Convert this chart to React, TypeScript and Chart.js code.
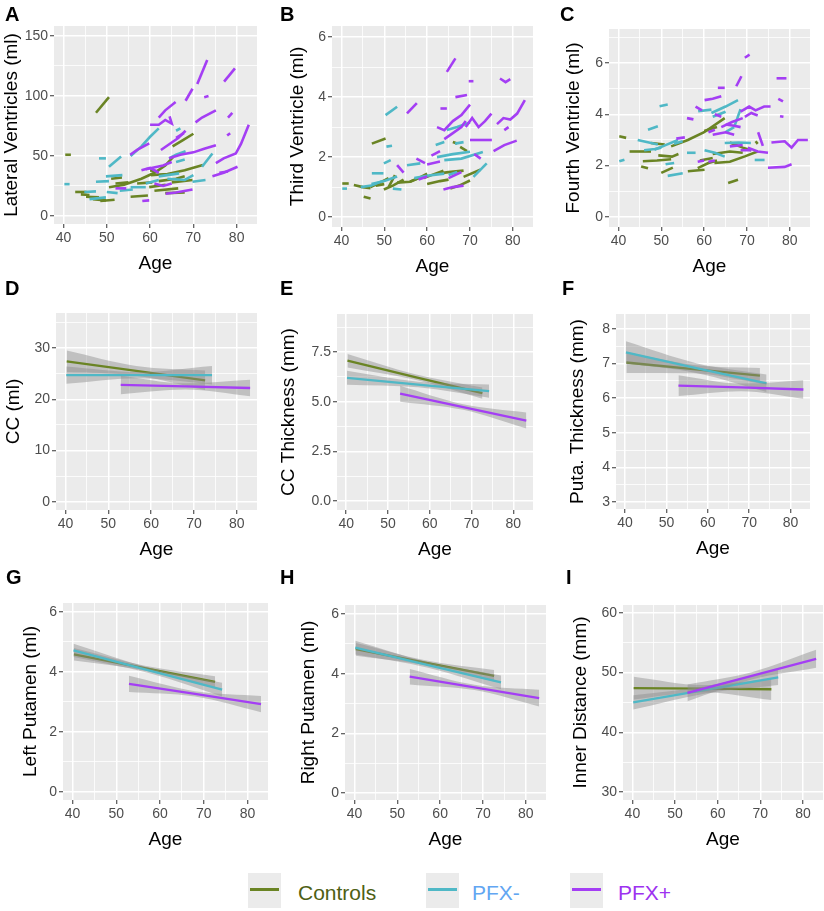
import React, { useEffect, useRef } from 'react';
import { Chart, registerables } from 'chart.js';
Chart.register(...registerables);

const FONT = '"Liberation Sans", Arial, Helvetica, sans-serif';
const COL_CTRL = '#6a8424';
const COL_NEG = '#4fb8c6';
const COL_POS = '#a43ef4';
const BAND = 'rgba(140,140,140,0.45)';

// ---------- axes ----------
const ageTicks = [40, 50, 60, 70, 80];
const ageMinor = [45, 55, 65, 75];
const ageLimits = [37.8, 84.7];

const lvTicks = [0, 50, 100, 150];
const lvMinor = [25, 75, 125];
const tvTicks = [0, 2, 4, 6];
const tvMinor = [1, 3, 5];
const fvTicks = [0, 2, 4, 6];
const fvMinor = [1, 3, 5, 7];
const ccTicks = [0, 10, 20, 30];
const ccMinor = [5, 15, 25, 35];
const cctTicks = [0, 2.5, 5, 7.5];
const cctLabels = ['0.0', '2.5', '5.0', '7.5'];
const cctMinor = [1.25, 3.75, 6.25, 8.75];
const ptTicks = [3, 4, 5, 6, 7, 8];
const ptMinor = [3.5, 4.5, 5.5, 6.5, 7.5];
const lpTicks = [0, 2, 4, 6];
const lpMinor = [1, 3, 5];
const rpTicks = [0, 2, 4, 6];
const rpMinor = [1, 3, 5];
const idTicks = [30, 40, 50, 60];
const idMinor = [35, 45, 55];

// ---------- A: lateral ventricles, trajectories [age, value, age, value, ...] ----------
const lvCtrl = [
  [47.5, 86, 50.5, 99], [40.4, 51, 41.7, 51], [42.7, 20, 45.3, 20], [45.2, 16, 48.2, 15.5],
  [46.8, 14, 49.8, 13], [48.5, 12.5, 51.8, 13.5], [51, 31, 53.5, 32], [52, 27, 55, 28],
  [55.5, 16, 59.5, 17], [50.5, 24, 54, 26, 58, 31, 61, 36, 63.5, 42, 65.3, 49],
  [59.8, 24, 63.6, 26], [61, 21, 66.5, 23], [63.5, 19, 68, 19.5], [65, 28, 69.8, 30],
  [60.2, 34, 64, 35, 68, 38, 72.2, 42.5], [65.2, 58, 67.5, 63, 70, 68.5], [57, 27, 60.5, 28],
  [62, 29, 66, 31, 68, 33], [44, 18, 46, 17.5], [60, 38, 62, 37],
];
const lvNeg = [
  [40.2, 26.5, 41.4, 26.5], [48.2, 48, 49.8, 48], [50.5, 41, 53.3, 49.5], [47.5, 28.5, 50.5, 29],
  [44.8, 20, 47.5, 20.5], [46, 14, 49.8, 15.5], [49.8, 33, 53.6, 34], [55.5, 24, 59, 24],
  [55.5, 50, 58, 58, 60, 66, 62, 73], [64.4, 48, 66, 51, 68.2, 54], [62, 33, 66.7, 35.5],
  [69.8, 28.5, 72.8, 30], [72, 41, 74.4, 52], [64, 31, 68, 30, 70, 34], [66, 71, 67, 73],
  [59, 27, 62, 30], [53, 21, 56, 22], [50, 20, 52.5, 19], [66, 45, 68, 47],
];
const lvPos = [
  [70.9, 110, 73.2, 130], [68.2, 96, 69.8, 106], [72.5, 99, 73.5, 100], [77.1, 112, 79.6, 123],
  [78, 82, 79, 86], [77.8, 67, 78.5, 69], [70.5, 78, 72, 82, 75.2, 88], [62, 82, 63.5, 88, 65.9, 95],
  [60, 76, 62, 76, 63.5, 80, 65, 77, 64.5, 83], [55.4, 51, 57, 55, 59.8, 60.5],
  [62.5, 55, 64.5, 60, 66.5, 65, 68.2, 71], [64.4, 48, 67, 51, 70, 53, 72.5, 56, 75.2, 59],
  [74.4, 33, 77, 36, 80.2, 41], [75.2, 44, 77, 48, 79.8, 52, 81, 60, 82.8, 76], [52, 23, 54.5, 23],
  [58.2, 12.5, 59.8, 13], [63.6, 18.5, 66, 19.5, 69.8, 22], [58, 38, 60, 40, 62, 36],
  [61, 27, 63, 25, 65, 27], [66, 65, 67.8, 69], [76, 36, 78, 37], [59, 39, 63, 42, 65, 45],
];

// ---------- B: third ventricle ----------
const tvCtrl = [
  [47.1, 2.45, 50.3, 2.62], [45.2, 0.68, 46.8, 0.62], [40.2, 1.12, 41.7, 1.12],
  [42.9, 1.07, 45, 1.0, 46.8, 0.96], [46.8, 1.0, 49, 1.15, 51, 1.3], [49.9, 0.92, 52, 1.05, 54.5, 1.25],
  [51, 1.0, 52.5, 1.4], [53, 1.15, 56, 1.18, 58, 1.3], [56, 1.18, 58, 1.3, 60, 1.45],
  [59.2, 1.3, 61, 1.4, 63.8, 1.55], [60, 1.1, 63, 1.2, 65, 1.25], [62.3, 1.45, 65, 1.5, 68.5, 1.55],
  [65.4, 0.95, 67.5, 1.05, 70, 1.22], [68.5, 1.34, 72.4, 1.58], [67.7, 2.34, 69.3, 2.2],
  [66, 2.5, 67, 2.45], [48, 1.05, 50, 1.1],
];
const tvNeg = [
  [40.2, 0.95, 41.3, 0.95], [50.3, 3.4, 53, 3.68], [50.5, 2.35, 51.8, 2.38], [47.1, 1.46, 49.8, 1.46],
  [49.9, 1.79, 51.5, 1.9], [44.5, 1.0, 47, 1.05, 49.5, 1.2], [47, 1.1, 50, 1.2, 53, 1.35],
  [55.3, 1.73, 58.4, 1.79], [62, 2.4, 64, 2.5], [62.3, 2.0, 66, 2.1, 70, 2.18],
  [64, 1.9, 68, 1.95, 73, 2.17], [70.8, 1.34, 73.9, 1.79], [64.6, 2.9, 67, 3.0, 70, 3.15],
  [66.5, 2.45, 68.5, 2.5], [57, 1.3, 60, 1.38, 64, 1.45], [52, 0.95, 54, 0.92], [65, 1.4, 67, 1.5],
];
const tvPos = [
  [64.6, 4.84, 66.6, 5.29], [66.6, 4.0, 69.3, 4.07], [69.7, 4.53, 70.8, 4.53], [63.1, 3.62, 64.6, 3.62],
  [55.3, 3.46, 57.6, 3.8], [62.3, 3.0, 64, 2.9, 66, 3.2, 68, 3.4, 70, 3.75], [64, 2.6, 66, 2.8, 68, 3.0, 69, 3.2],
  [69, 3.0, 70.5, 3.3, 72, 3.0, 73.5, 3.2, 75, 3.45], [76.3, 3.1, 77.8, 3.3, 79.4, 3.25, 81, 3.45, 82.8, 3.9],
  [77, 4.62, 78.3, 4.5, 79.4, 4.6], [75.5, 2.2, 78, 2.4, 80.9, 2.55], [70, 2.57, 75.1, 2.57],
  [53, 1.73, 54.5, 1.48], [63.8, 0.92, 66, 1.0, 68.5, 1.05], [57.5, 1.95, 59.5, 1.8], [60, 1.75, 63, 1.85],
  [65, 1.3, 68, 1.5], [61, 2.05, 63, 2.2], [78, 2.9, 79, 3.0], [71, 2.1, 72.5, 1.95], [58, 1.25, 60, 1.35],
];

// ---------- C: fourth ventricle ----------
const fvCtrl = [
  [40.2, 3.14, 41.8, 3.08], [42.6, 2.55, 47.6, 2.55], [45.3, 1.97, 46.9, 1.9], [45.7, 2.17, 49, 2.2, 52.3, 2.25],
  [47.6, 2.88, 50.8, 2.82], [49.3, 2.4, 52.5, 2.35, 54, 2.45], [50, 1.72, 52.7, 1.92],
  [52.3, 2.75, 56.2, 3.0, 60, 3.3, 64.8, 3.85], [56.2, 1.78, 60.1, 1.84], [58.5, 1.9, 61, 2.1, 63, 2.2],
  [62.4, 2.1, 66, 2.15, 69.5, 2.36, 72.6, 2.56], [62, 2.45, 66, 2.55, 69, 2.5], [65.6, 1.32, 67.9, 1.45],
  [66, 2.9, 69, 2.7, 71, 2.6], [72, 2.95, 72.5, 2.85], [60, 3.35, 63, 3.5], [59, 2.2, 62, 2.3],
];
const fvNeg = [
  [40.2, 2.17, 41.4, 2.23], [44.5, 3.0, 49.2, 2.82], [46.9, 3.4, 49.2, 3.53], [49.6, 4.31, 51.5, 4.38],
  [46, 2.6, 48.5, 2.65, 50, 2.7], [48.4, 2.62, 51, 2.8, 53.9, 3.0], [51.5, 1.6, 55, 1.7], [51, 2.05, 53, 2.1],
  [56, 2.5, 58, 2.5], [58.6, 4.12, 61.7, 4.18], [61.7, 4.05, 65, 4.3, 67.9, 4.55], [60.1, 2.6, 62.5, 2.5, 64.8, 2.35],
  [64.8, 2.88, 68, 2.9, 70.9, 2.88], [67, 3.5, 68.5, 4.2], [71.8, 2.22, 74.1, 2.22], [62, 3.9, 65, 4.1],
  [65, 3.3, 67, 3.5], [53, 2.85, 55, 2.95],
];
const fvPos = [
  [69.5, 6.2, 70.6, 6.32], [67.5, 5.09, 68.7, 5.48], [63.2, 5.03, 64.8, 5.03], [60.1, 4.55, 62, 4.6, 64, 4.7],
  [76.9, 5.4, 79.2, 5.4], [77.3, 4.6, 78.4, 4.5], [77.7, 3.92, 78.5, 3.9], [56, 3.85, 57.5, 3.8],
  [58, 4.3, 59.5, 4.15], [58.5, 2.15, 60, 2.2], [53.5, 3.05, 55.5, 3.1],
  [68.5, 4.1, 70.5, 4.3, 72, 4.15, 74, 4.3, 75.5, 4.3], [69.5, 3.9, 71, 4.05, 72.5, 3.95], [72.6, 3.3, 73.7, 2.77],
  [64, 3.5, 66.5, 3.7, 69, 3.85], [62, 3.2, 65, 3.3, 67, 3.2], [65, 3.6, 67, 3.55, 68.5, 3.5],
  [75.7, 2.9, 78.8, 2.95, 80.4, 2.7, 81.9, 3.0, 84.2, 3.0], [74.9, 1.92, 78.8, 1.95, 80.4, 2.05],
  [68.5, 2.6, 71, 2.6], [70.2, 2.7, 72.5, 2.55, 74.9, 2.5], [61, 2.15, 62.5, 2.2], [61, 3.3, 62.5, 3.4],
  [66, 2.75, 69, 2.8], [62.5, 4.0, 64, 3.9],
];

// ---------- D-I: linear fits with 95% bands (start, middle, end of each group's age span) ----------
const ctrlAge = [40.3, 56.5, 72.6];
const negAge = [40.2, 57.2, 74.2];
const posAge = [52.9, 68.0, 83.1];

const ccCtrlFit = [27.4, 25.55, 23.7]; const ccCtrlLo = [25.3, 24.6, 21.8]; const ccCtrlHi = [29.5, 26.5, 25.6];
const ccNegFit = [24.7, 24.7, 24.7]; const ccNegLo = [23.0, 24.1, 22.9]; const ccNegHi = [26.4, 25.3, 26.5];
const ccPosFit = [22.8, 22.5, 22.2]; const ccPosLo = [21.0, 21.9, 20.6]; const ccPosHi = [24.6, 23.1, 23.8];

const cctCtrlFit = [7.06, 6.24, 5.43]; const cctCtrlLo = [6.72, 6.1, 5.15]; const cctCtrlHi = [7.4, 6.38, 5.71];
const cctNegFit = [6.2, 5.86, 5.53]; const cctNegLo = [5.85, 5.72, 5.2]; const cctNegHi = [6.55, 6.0, 5.86];
const cctPosFit = [5.4, 4.73, 4.05]; const cctPosLo = [5.0, 4.59, 3.65]; const cctPosHi = [5.8, 4.87, 4.45];

const ptCtrlFit = [7.03, 6.84, 6.65]; const ptCtrlLo = [6.73, 6.72, 6.43]; const ptCtrlHi = [7.33, 6.96, 6.87];
const ptNegFit = [7.32, 6.87, 6.43]; const ptNegLo = [7.0, 6.73, 6.18]; const ptNegHi = [7.64, 7.01, 6.68];
const ptPosFit = [6.36, 6.31, 6.25]; const ptPosLo = [6.06, 6.2, 5.98]; const ptPosHi = [6.66, 6.42, 6.52];

const lpCtrlFit = [4.59, 4.13, 3.67]; const lpCtrlLo = [4.38, 4.05, 3.48]; const lpCtrlHi = [4.8, 4.21, 3.86];
const lpNegFit = [4.72, 4.06, 3.41]; const lpNegLo = [4.5, 3.97, 3.18]; const lpNegHi = [4.94, 4.15, 3.64];
const lpPosFit = [3.6, 3.27, 2.93]; const lpPosLo = [3.33, 3.18, 2.66]; const lpPosHi = [3.87, 3.36, 3.2];

const rpCtrlFit = [4.82, 4.37, 3.93]; const rpCtrlLo = [4.6, 4.29, 3.74]; const rpCtrlHi = [5.04, 4.45, 4.12];
const rpNegFit = [4.87, 4.29, 3.71]; const rpNegLo = [4.64, 4.2, 3.48]; const rpNegHi = [5.1, 4.38, 3.94];
const rpPosFit = [3.9, 3.54, 3.18]; const rpPosLo = [3.64, 3.45, 2.9]; const rpPosHi = [4.16, 3.63, 3.46];

const idCtrlFit = [47.4, 47.3, 47.2]; const idCtrlLo = [45.5, 46.7, 45.4]; const idCtrlHi = [49.3, 47.9, 49.0];
const idNegFit = [45.0, 47.1, 49.2]; const idNegLo = [43.8, 46.5, 47.9]; const idNegHi = [46.2, 47.7, 50.5];
const idPosFit = [46.6, 49.45, 52.3]; const idPosLo = [45.2, 48.85, 50.8]; const idPosHi = [48.0, 50.05, 53.8];

const groupNames = ['Controls', 'PFX-', 'PFX+'];

// ---------- dataset builders ----------
function trajSets(groups: [number[][], string][]) {
  const out: any[] = [];
  groups.forEach(([trajs, color]) => {
    trajs.forEach((t) => {
      const pts: { x: number; y: number }[] = [];
      for (let i = 0; i < t.length; i += 2) pts.push({ x: t[i], y: t[i + 1] });
      out.push({ data: pts, borderColor: color, borderWidth: 2.6, pointRadius: 0, fill: false, tension: 0 });
    });
  });
  out.forEach((d, i) => (d.order = out.length - i));
  return out;
}

function smoothSets(groups: [number[], number[], number[], number[], string][]) {
  const out: any[] = [];
  groups.forEach(([age, fit, lo, hi, color]) => {
    const hiIdx = out.length;
    out.push({
      data: age.map((a, i) => ({ x: a, y: hi[i] })), borderWidth: 0, borderColor: 'rgba(0,0,0,0)',
      pointRadius: 0, fill: hiIdx + 1, backgroundColor: BAND, cubicInterpolationMode: 'monotone',
    });
    out.push({
      data: age.map((a, i) => ({ x: a, y: lo[i] })), borderWidth: 0, borderColor: 'rgba(0,0,0,0)',
      pointRadius: 0, fill: false, cubicInterpolationMode: 'monotone',
    });
    out.push({
      data: age.map((a, i) => ({ x: a, y: fit[i] })), borderColor: color, borderWidth: 2.3,
      pointRadius: 0, fill: false, tension: 0,
    });
  });
  out.forEach((d, i) => (d.order = out.length - i));
  return out;
}

// ---------- panel layout ----------
type Panel = {
  letter: string; lx: number; ly: number;
  cx: number; cy: number; cw: number; ch: number;
  L: number; R: number; T: number; B: number;
  yMin: number; yMax: number; yMajor: number[]; yLabels: string[]; yMinor: number[];
  title: string; datasets: any[];
};

const str = (a: number[]) => a.map((v) => String(v));

const panels: Panel[] = [
  {
    letter: 'A', lx: 5, ly: 4, cx: 0, cy: 0, cw: 272, ch: 280, L: 54, R: 257, T: 26, B: 224,
    yMin: -6.7, yMax: 158.3, yMajor: lvTicks, yLabels: str(lvTicks), yMinor: lvMinor,
    title: 'Lateral Ventricles (ml)', datasets: trajSets([[lvCtrl, COL_CTRL], [lvNeg, COL_NEG], [lvPos, COL_POS]]),
  },
  {
    letter: 'B', lx: 280, ly: 4, cx: 286, cy: 0, cw: 264, ch: 283, L: 332, R: 533, T: 26, B: 227,
    yMin: -0.33, yMax: 6.37, yMajor: tvTicks, yLabels: str(tvTicks), yMinor: tvMinor,
    title: 'Third Ventricle (ml)', datasets: trajSets([[tvCtrl, COL_CTRL], [tvNeg, COL_NEG], [tvPos, COL_POS]]),
  },
  {
    letter: 'C', lx: 560, ly: 4, cx: 562, cy: 0, cw: 262, ch: 283, L: 609, R: 810, T: 29, B: 227,
    yMin: -0.39, yMax: 7.32, yMajor: fvTicks, yLabels: str(fvTicks), yMinor: fvMinor,
    title: 'Fourth Ventricle (ml)', datasets: trajSets([[fvCtrl, COL_CTRL], [fvNeg, COL_NEG], [fvPos, COL_POS]]),
  },
  {
    letter: 'D', lx: 5, ly: 278, cx: 2, cy: 286, cw: 270, ch: 280, L: 56, R: 257, T: 313, B: 510,
    yMin: -1.56, yMax: 36.8, yMajor: ccTicks, yLabels: str(ccTicks), yMinor: ccMinor,
    title: 'CC (ml)', datasets: smoothSets([
      [ctrlAge, ccCtrlFit, ccCtrlLo, ccCtrlHi, COL_CTRL], [negAge, ccNegFit, ccNegLo, ccNegHi, COL_NEG],
      [posAge, ccPosFit, ccPosLo, ccPosHi, COL_POS]]),
  },
  {
    letter: 'E', lx: 280, ly: 278, cx: 277, cy: 286, cw: 273, ch: 280, L: 337, R: 533, T: 314, B: 510,
    yMin: -0.45, yMax: 9.41, yMajor: cctTicks, yLabels: cctLabels, yMinor: cctMinor,
    title: 'CC Thickness (mm)', datasets: smoothSets([
      [ctrlAge, cctCtrlFit, cctCtrlLo, cctCtrlHi, COL_CTRL], [negAge, cctNegFit, cctNegLo, cctNegHi, COL_NEG],
      [posAge, cctPosFit, cctPosLo, cctPosHi, COL_POS]]),
  },
  {
    letter: 'F', lx: 562, ly: 278, cx: 566, cy: 286, cw: 258, ch: 279, L: 616, R: 810, T: 314, B: 509,
    yMin: 2.8, yMax: 8.43, yMajor: ptTicks, yLabels: str(ptTicks), yMinor: ptMinor,
    title: 'Puta. Thickness (mm)', datasets: smoothSets([
      [ctrlAge, ptCtrlFit, ptCtrlLo, ptCtrlHi, COL_CTRL], [negAge, ptNegFit, ptNegLo, ptNegHi, COL_NEG],
      [posAge, ptPosFit, ptPosLo, ptPosHi, COL_POS]]),
  },
  {
    letter: 'G', lx: 6, ly: 567, cx: 19, cy: 572, cw: 253, ch: 284, L: 63, R: 268, T: 603, B: 800,
    yMin: -0.27, yMax: 6.3, yMajor: lpTicks, yLabels: str(lpTicks), yMinor: lpMinor,
    title: 'Left Putamen (ml)', datasets: smoothSets([
      [ctrlAge, lpCtrlFit, lpCtrlLo, lpCtrlHi, COL_CTRL], [negAge, lpNegFit, lpNegLo, lpNegHi, COL_NEG],
      [posAge, lpPosFit, lpPosLo, lpPosHi, COL_POS]]),
  },
  {
    letter: 'H', lx: 280, ly: 567, cx: 297, cy: 572, cw: 253, ch: 284, L: 345, R: 546, T: 605, B: 800,
    yMin: -0.23, yMax: 6.3, yMajor: rpTicks, yLabels: str(rpTicks), yMinor: rpMinor,
    title: 'Right Putamen (ml)', datasets: smoothSets([
      [ctrlAge, rpCtrlFit, rpCtrlLo, rpCtrlHi, COL_CTRL], [negAge, rpNegFit, rpNegLo, rpNegHi, COL_NEG],
      [posAge, rpPosFit, rpPosLo, rpPosHi, COL_POS]]),
  },
  {
    letter: 'I', lx: 566, ly: 567, cx: 569, cy: 572, cw: 255, ch: 284, L: 623, R: 823, T: 605, B: 800,
    yMin: 28.66, yMax: 61.3, yMajor: idTicks, yLabels: str(idTicks), yMinor: idMinor,
    title: 'Inner Distance (mm)', datasets: smoothSets([
      [ctrlAge, idCtrlFit, idCtrlLo, idCtrlHi, COL_CTRL], [negAge, idNegFit, idNegLo, idNegHi, COL_NEG],
      [posAge, idPosFit, idPosLo, idPosHi, COL_POS]]),
  },
];

const bgPlugin = {
  id: 'ggbg',
  beforeDraw(chart: any) {
    const { ctx, chartArea: a } = chart;
    ctx.save();
    ctx.fillStyle = '#ebebeb';
    ctx.fillRect(a.left, a.top, a.right - a.left, a.bottom - a.top);
    ctx.restore();
  },
};

function gridOpts(majors: number[]) {
  const isMaj = (ctx: any) => !!ctx.tick && majors.some((m) => Math.abs(m - ctx.tick.value) < 1e-9);
  return {
    color: '#ffffff',
    lineWidth: (ctx: any) => (isMaj(ctx) ? 1.5 : 0.8),
    tickColor: (ctx: any) => (isMaj(ctx) ? '#333333' : 'rgba(0,0,0,0)'),
    tickLength: 4,
    tickWidth: 1,
    drawTicks: true,
    drawOnChartArea: true,
  };
}

function PanelChart({ p }: { p: Panel }) {
  const ref = useRef<HTMLCanvasElement>(null);
  useEffect(() => {
    const xAll = [...ageTicks, ...ageMinor].filter((v) => v >= ageLimits[0] && v <= ageLimits[1]).sort((a, b) => a - b);
    const yAll = [...p.yMajor, ...p.yMinor].filter((v) => v >= p.yMin && v <= p.yMax).sort((a, b) => a - b);
    const chart = new Chart(ref.current as HTMLCanvasElement, {
      type: 'line',
      data: { datasets: p.datasets },
      plugins: [bgPlugin],
      options: {
        responsive: false,
        animation: false,
        devicePixelRatio: 1,
        events: [],
        layout: { padding: { left: 0, top: p.T - p.cy, right: p.cx + p.cw - p.R, bottom: 0 } },
        plugins: { legend: { display: false }, tooltip: { enabled: false } },
        scales: {
          x: {
            type: 'linear',
            min: ageLimits[0],
            max: ageLimits[1],
            afterBuildTicks: (s: any) => { s.ticks = xAll.map((v) => ({ value: v })); },
            afterFit: (s: any) => { s.height = p.cy + p.ch - p.B; },
            ticks: {
              autoSkip: false, maxRotation: 0, minRotation: 0, padding: 2, color: '#4d4d4d',
              font: { family: FONT, size: 14 },
              callback: (v: any) => { const i = ageTicks.indexOf(Number(v)); return i >= 0 ? String(ageTicks[i]) : ''; },
            },
            grid: gridOpts(ageTicks) as any,
            border: { display: false },
            title: { display: true, text: 'Age', color: '#000000', font: { family: FONT, size: 19 }, padding: { top: 0, bottom: 4.6 } },
          },
          y: {
            type: 'linear',
            min: p.yMin,
            max: p.yMax,
            afterBuildTicks: (s: any) => { s.ticks = yAll.map((v) => ({ value: v })); },
            afterFit: (s: any) => { s.width = p.L - p.cx; },
            ticks: {
              autoSkip: false, padding: 2, color: '#4d4d4d',
              font: { family: FONT, size: 14 },
              callback: (v: any) => {
                const i = p.yMajor.findIndex((m) => Math.abs(m - Number(v)) < 1e-9);
                return i >= 0 ? p.yLabels[i] : '';
              },
            },
            grid: gridOpts(p.yMajor) as any,
            border: { display: false },
            title: { display: true, text: p.title, color: '#000000', font: { family: FONT, size: 19 }, padding: { top: 0, bottom: 0 } },
          },
        },
      } as any,
    });
    return () => chart.destroy();
  }, [p]);
  return (
    <canvas
      ref={ref}
      width={p.cw}
      height={p.ch}
      style={{ position: 'absolute', left: p.cx, top: p.cy, width: p.cw, height: p.ch }}
    />
  );
}

const legendItems = [
  { name: groupNames[0], line: COL_CTRL, text: '#4e6014', kx: 248, tx: 298 },
  { name: groupNames[1], line: COL_NEG, text: '#62a6f2', kx: 426, tx: 472 },
  { name: groupNames[2], line: COL_POS, text: '#9d32f0', kx: 570, tx: 618 },
];

export default function App() {
  return (
    <div style={{ position: 'absolute', left: 0, top: 0, width: 824, height: 911, background: '#ffffff', overflow: 'hidden' }}>
      {panels.map((p) => (
        <PanelChart key={p.letter} p={p} />
      ))}
      {panels.map((p) => (
        <div
          key={'l' + p.letter}
          style={{
            position: 'absolute', left: p.lx, top: p.ly, fontFamily: FONT, fontWeight: 'bold',
            fontSize: 20, lineHeight: '20px', color: '#000',
          }}
        >
          {p.letter}
        </div>
      ))}
      {legendItems.map((it) => (
        <React.Fragment key={it.name}>
          <div style={{ position: 'absolute', left: it.kx, top: 873, width: 33, height: 35, background: '#ebebeb' }}>
            <div style={{ position: 'absolute', left: 2, right: 2, top: 15, height: 3, background: it.line }} />
          </div>
          <div
            style={{
              position: 'absolute', left: it.tx, top: 882, fontFamily: FONT, fontSize: 21,
              lineHeight: '21px', color: it.text, whiteSpace: 'nowrap',
            }}
          >
            {it.name}
          </div>
        </React.Fragment>
      ))}
    </div>
  );
}
